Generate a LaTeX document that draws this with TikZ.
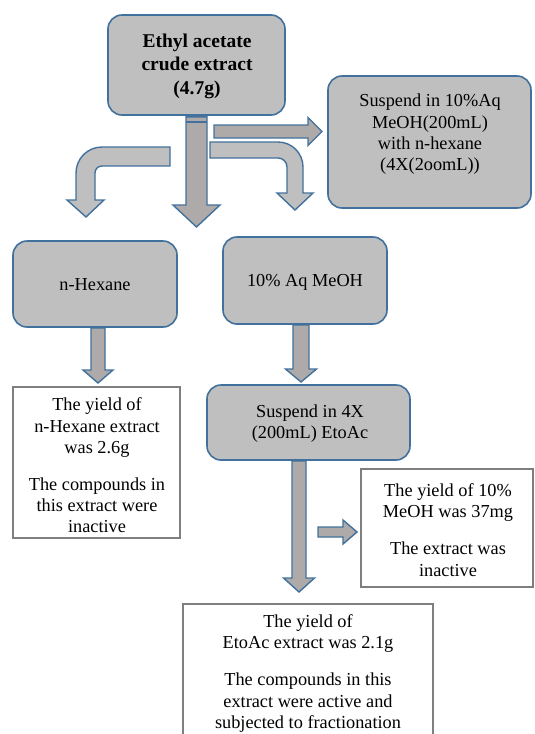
\documentclass[tikz,border=0pt]{standalone}
\usepackage{fontspec}
\setmainfont{Liberation Serif}
\usetikzlibrary{calc}

\definecolor{boxgray}{HTML}{BFBFBF}
\definecolor{shaftgray}{HTML}{AEAAAA}
\definecolor{edgeblue}{HTML}{41719C}
\definecolor{framegray}{HTML}{7F7F7F}

\tikzset{
  rbox/.style={draw=edgeblue, fill=boxgray, line width=1.6pt, rounded corners=14pt,
               inner sep=0pt, rectangle},
  ybox/.style={draw=framegray, fill=white, line width=1.1pt, inner sep=0pt, rectangle},
  txt/.style={align=center, inner sep=0pt, font=\fontsize{18.3}{21.3}\selectfont},
  blockarrow/.style={draw=edgeblue, fill=shaftgray, line width=1.4pt, line join=miter},
  bentarrow/.style={draw=edgeblue, fill=boxgray, line width=1.4pt, line join=miter},
}

% straight block arrow pointing down: start, tip, shaft half width, head half width, head length
\newcommand\blockdown[5]{%
  \draw[blockarrow] ($(#1)+(-#3,0)$) -- ($(#1 |- #2)+(-#3,-#5)$) -- ($(#1 |- #2)+(-#4,-#5)$)
    -- (#1 |- #2) -- ($(#1 |- #2)+(#4,-#5)$) -- ($(#1 |- #2)+(#3,-#5)$) -- ($(#1)+(#3,0)$) -- cycle;}
% straight block arrow pointing right
\newcommand\blockright[5]{%
  \draw[blockarrow] ($(#1)+(0,-#3)$) -- ($(#2 |- #1)+(-#5,-#3)$) -- ($(#2 |- #1)+(-#5,-#4)$)
    -- (#2 |- #1) -- ($(#2 |- #1)+(-#5,#4)$) -- ($(#2 |- #1)+(-#5,#3)$) -- ($(#1)+(0,#3)$) -- cycle;}

\begin{document}
\begin{tikzpicture}[x=1pt, y=-1pt]
\useasboundingbox (0,0) rectangle (535,734);

% --- boxes ---
\node[rbox, minimum width=177pt, minimum height=100pt] (crude) at (196.5,65) {};
\node[txt, font=\fontsize{19.5}{23.5}\selectfont\bfseries] (crudeT) at (197,66) {Ethyl acetate\\crude extract\\(4.7g)};

\node[rbox, minimum width=203pt, minimum height=132pt] (susp1) at (429.5,142) {};
\node[txt] (susp1T) at (430,134.5) {Suspend in 10\%Aq\\MeOH(200mL)\\with n-hexane\\(4X(2oomL))};

\node[rbox, minimum width=164pt, minimum height=86pt] (hex) at (95,284) {};
\node[txt] (hexT) at (95,285) {n-Hexane};

\node[rbox, minimum width=164pt, minimum height=87pt] (aq) at (305,280.5) {};
\node[txt] (aqT) at (305,282) {10\% Aq MeOH};

\node[ybox, minimum width=167pt, minimum height=151pt] (yhex) at (96.5,462.5) {};
\node[txt] (yhexT) at (97,465.5) {The yield of\\n-Hexane extract\\was 2.6g\\[15.5pt]The compounds in\\this extract were\\inactive};

\node[rbox, minimum width=203pt, minimum height=75pt] (susp2) at (308.5,422.5) {};
\node[txt] (susp2T) at (310,423.5) {Suspend in 4X\\(200mL) EtoAc};

\node[ybox, minimum width=172pt, minimum height=118pt] (y10) at (447,528) {};
\node[txt] (y10T) at (448,530) {The yield of 10\%\\MeOH was 37mg\\[15.5pt]The extract was\\inactive};

\node[ybox, minimum width=250pt, minimum height=146pt] (yet) at (308,677) {};
\node[txt] (yetT) at (308,673.5) {The yield of\\EtoAc extract was 2.1g\\[15.5pt]The compounds in this\\extract were active and\\subjected to fractionation};

% --- arrow end points ---
\coordinate (a1s) at ($(crude.south)+(0,1)$);
\coordinate (a1t) at (196.5,227);
\coordinate (a2s) at (214,131.5);
\coordinate (a2t) at (322,131.5);
\coordinate (a3s) at ($(hex.south)+(3,0)$);
\coordinate (a3t) at (98,383);
\coordinate (a4s) at ($(aq.south)+(-4,0)$);
\coordinate (a4t) at (301,382);
\coordinate (a5s) at ($(susp2.south)+(-9.5,0)$);
\coordinate (a5t) at (299,592);
\coordinate (a6s) at (318,532);
\coordinate (a6t) at (357,532);

% --- bent arrows branching off the main stem ---
\draw[bentarrow] (170,147) -- (102,147) .. controls (87.6,147) and (76,158.6) .. (76,173)
  -- (76,200) -- (67,200) -- (86,217) -- (104,200) -- (95,200) -- (95,173)
  .. controls (95,169.1) and (98.1,166) .. (102,166) -- (170,166) -- cycle;
\draw[bentarrow] (210,142) -- (278,142) .. controls (291.8,142) and (303,153.2) .. (303,167)
  -- (303,193) -- (313,193) -- (295,210) -- (277,193) -- (287,193) -- (287,167)
  .. controls (287,162) and (283,158) .. (278,158) -- (210,158) -- cycle;

% --- straight block arrows ---
\blockdown{a1s}{a1t}{10.5}{23.5}{22}
\draw[edgeblue, line width=1.4pt] ($(a1s)+(-10.5,5)$) -- ($(a1s)+(10.5,5)$);
\blockright{a2s}{a2t}{6.5}{14}{14}
\blockdown{a3s}{a3t}{7}{15}{13}
\blockdown{a4s}{a4t}{8}{15.5}{13}
\blockdown{a5s}{a5t}{7}{15.5}{14}
\blockright{a6s}{a6t}{5}{12}{14}
\end{tikzpicture}
\end{document}
